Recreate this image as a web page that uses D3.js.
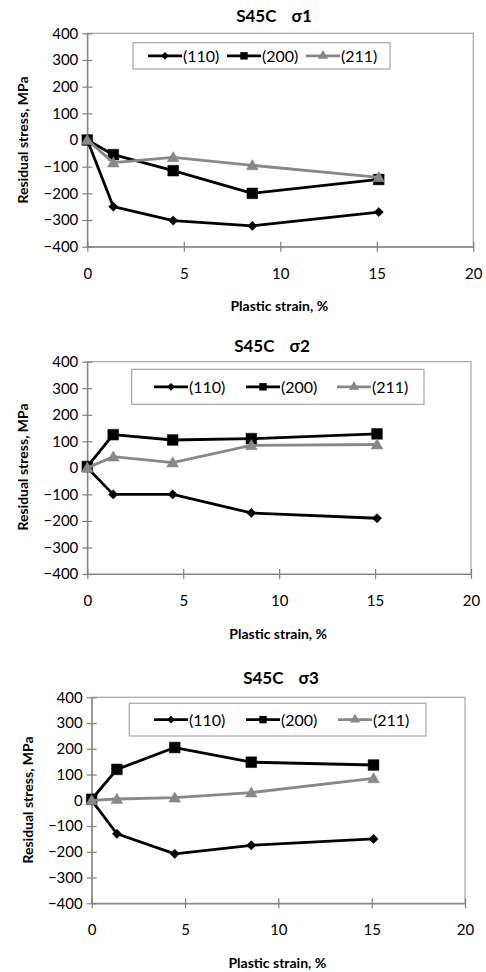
<!DOCTYPE html>
<html><head><meta charset="utf-8">
<script src="https://cdn.jsdelivr.net/npm/d3@7"></script>
<style>
html,body{margin:0;padding:0;background:#fff;}
svg{display:block;}
text{font-family:Lato,"Open Sans",sans-serif;fill:#000;}
</style></head>
<body>
<script>
const strain = [0, 1.35, 4.45, 8.55, 15.1];
const seriesNames = ["(110)", "(200)", "(211)"];
const xTicks = [0, 5, 10, 15, 20];
const yTicks = [400, 300, 200, 100, 0, -100, -200, -300, -400];
const titleMain = ["S45C", "S45C", "S45C"];
const titleSub = ["σ1", "σ2", "σ3"];
const s1_110 = [0, -250, -302, -322, -270];
const s1_200 = [0, -55, -115, -200, -148];
const s1_211 = [0, -85, -65, -95, -140];
const s2_110 = [0, -100, -100, -170, -190];
const s2_200 = [5, 125, 105, 110, 128];
const s2_211 = [0, 42, 20, 85, 88];
const s3_110 = [0, -130, -208, -175, -150];
const s3_200 = [4, 120, 205, 148, 137];
const s3_211 = [0, 5, 10, 30, 85];

const panelData = [[s1_110, s1_200, s1_211], [s2_110, s2_200, s2_211], [s3_110, s3_200, s3_211]];

const layouts = [
  {l:87.3, r:473.3, t:33.3, b:246.7, tx:274, ty:15, xl:273, xt:305, yx:22, yy:140,
   leg:{x0:133, x1:390, y0:42.7, y1:69, items:[148, 227, 306]}},
  {l:87.3, r:471, t:361.7, b:574, tx:272, ty:345, xl:600, xt:633, yx:22, yy:467,
   leg:{x0:131.7, x1:424, y0:369.3, y1:404.3, items:[154, 246, 337]}},
  {l:91.7, r:465, t:697.3, b:903.3, tx:281, ty:677, xl:929, xt:962, yx:27, yy:800,
   leg:{x0:129.3, x1:426, y0:703.3, y1:736, items:[154, 246, 338]}}
];
const styles = [
  {color:"#000", marker:"diamond", size:55, legSize:38},
  {color:"#000", marker:"square", size:115, legSize:55},
  {color:"#888", marker:"triangle", size:60, legSize:45}
];
const symbolType = {diamond:d3.symbolDiamond2, square:d3.symbolSquare, triangle:d3.symbolTriangle};

const svg = d3.select("body").append("svg").attr("width",486).attr("height",972);
svg.append("rect").attr("width",486).attr("height",972).attr("fill","#fff");

panelData.forEach((series, pi) => {
  const L = layouts[pi];
  const g = svg.append("g");
  const x = d3.scaleLinear().domain([0,20]).range([L.l, L.r]);
  const y = d3.scaleLinear().domain([-400,400]).range([L.b, L.t]);

  // plot border
  g.append("rect").attr("x",L.l).attr("y",L.t).attr("width",L.r-L.l).attr("height",L.b-L.t)
    .attr("fill","none").attr("stroke","#a6a6a6").attr("stroke-width",1.2);

  // axes
  const ya = g.append("g").attr("transform",`translate(${L.l},0)`)
    .call(d3.axisLeft(y).tickValues(yTicks).tickSize(5).tickSizeOuter(0).tickPadding(4));
  ya.selectAll(".tick line").attr("x2",5).attr("x1",-5);
  const xa = g.append("g").attr("transform",`translate(0,${L.b})`)
    .call(d3.axisBottom(x).tickValues(xTicks).tickSize(5).tickSizeOuter(0).tickPadding(4));
  xa.selectAll(".tick line").attr("y1",-5).attr("y2",5);
  [ya, xa].forEach(a => {
    a.select(".domain").attr("stroke","#808080").attr("stroke-width",1.2);
    a.selectAll(".tick line").attr("stroke","#808080").attr("stroke-width",1.2);
    a.selectAll(".tick text").style("font-size","15px").attr("fill","#000");
  });
  ya.selectAll(".tick text").attr("x",-9);
  xa.selectAll(".tick text").attr("y",null).attr("dy",null)
    .attr("transform",`translate(0,${L.xl-L.b})`).attr("dominant-baseline","central");

  // title
  const tt = g.append("text").attr("x",L.tx).attr("y",L.ty).attr("text-anchor","middle")
    .attr("dominant-baseline","central").style("font-size","17px").style("font-weight","bold");
  tt.append("tspan").text(titleMain[pi]);
  tt.append("tspan").attr("dx",15).text(titleSub[pi]);
  g.append("text").attr("x",(L.l+L.r)/2 - 1).attr("y",L.xt).attr("text-anchor","middle")
    .attr("dominant-baseline","central").style("font-size","14px").style("font-weight","bold")
    .text("Plastic strain, %");
  g.append("text").attr("transform",`translate(${L.yx},${L.yy}) rotate(-90)`).attr("text-anchor","middle")
    .attr("dominant-baseline","central").style("font-size","14px").style("font-weight","bold")
    .text("Residual stress, MPa");

  // series
  const line = d3.line().x(d=>x(d[0])).y(d=>y(d[1]));
  series.forEach((vals, si) => {
    const st = styles[si];
    const pts = strain.map((s,i)=>[s, vals[i]]);
    g.append("path").attr("d",line(pts)).attr("fill","none").attr("stroke",st.color)
      .attr("stroke-width",2.8).attr("stroke-linejoin","round");
    const sym = d3.symbol().type(symbolType[st.marker]).size(st.size);
    g.selectAll(null).data(pts).enter().append("path")
      .attr("d",sym).attr("transform",d=>`translate(${x(d[0])},${y(d[1]) + (st.marker==="triangle"?1:0)})`)
      .attr("fill",st.color).attr("stroke",st.color).attr("stroke-width",0.5);
  });

  // legend
  const lg = L.leg;
  g.append("rect").attr("x",lg.x0).attr("y",lg.y0).attr("width",lg.x1-lg.x0).attr("height",lg.y1-lg.y0)
    .attr("fill","#fff").attr("stroke","#a6a6a6").attr("stroke-width",1.2);
  const cy = (lg.y0+lg.y1)/2;
  seriesNames.forEach((nm, si) => {
    const st = styles[si];
    const x0 = lg.items[si];
    g.append("line").attr("x1",x0).attr("x2",x0+34).attr("y1",cy).attr("y2",cy)
      .attr("stroke",st.color).attr("stroke-width",2.8);
    g.append("path").attr("d",d3.symbol().type(symbolType[st.marker]).size(st.legSize)())
      .attr("transform",`translate(${x0+17},${cy})`).attr("fill",st.color);
    g.append("text").attr("x",x0+35).attr("y",cy).attr("dominant-baseline","central")
      .style("font-size","16px").text(nm);
  });
});
</script>
</body></html>
